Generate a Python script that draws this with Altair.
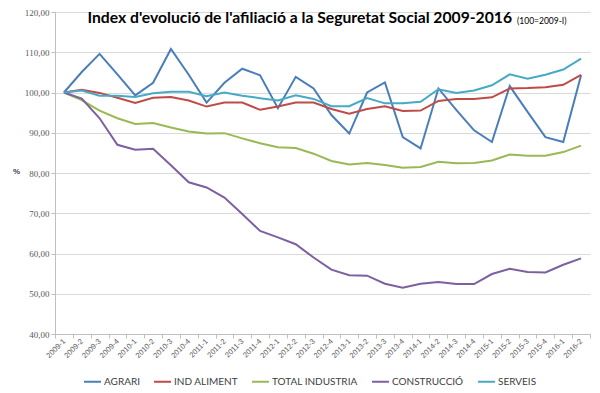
import altair as alt
import pandas as pd

periods = ["2009-1", "2009-2", "2009-3", "2009-4", "2010-1", "2010-2", "2010-3", "2010-4",
           "2011-1", "2011-2", "2011-3", "2011-4", "2012-1", "2012-2", "2012-3", "2012-4",
           "2013-1", "2013-2", "2013-3", "2013-4", "2014-1", "2014-2", "2014-3", "2014-4",
           "2015-1", "2015-2", "2015-3", "2015-4", "2016-1", "2016-2"]

agrari = [100, 105.1, 109.6, 104.5, 99.3, 102.4, 110.8, 104.4, 97.5, 102.4, 105.9, 104.3,
          96.1, 103.9, 101.0, 94.4, 89.8, 100.0, 102.5, 88.9, 86.1, 101.0, 95.7, 90.6,
          87.7, 101.6, 95.2, 88.9, 87.7, 104.3]
ind_aliment = [100, 100.7, 99.9, 98.7, 97.4, 98.7, 98.9, 98.0, 96.5, 97.5, 97.5, 95.7,
               96.5, 97.5, 97.5, 95.9, 94.7, 95.9, 96.6, 95.4, 95.5, 97.9, 98.4, 98.4,
               98.8, 101.0, 101.1, 101.3, 101.9, 104.4]
total_industria = [100, 98.1, 95.5, 93.6, 92.2, 92.4, 91.3, 90.3, 89.8, 89.9, 88.6, 87.4,
                   86.4, 86.2, 84.8, 83.0, 82.1, 82.5, 82.0, 81.3, 81.5, 82.8, 82.4, 82.5,
                   83.1, 84.6, 84.3, 84.3, 85.2, 86.8]
construccio = [100, 98.5, 93.6, 87.0, 85.8, 86.0, 81.9, 77.7, 76.4, 73.9, 69.8, 65.6,
               64.0, 62.3, 59.0, 56.0, 54.6, 54.5, 52.5, 51.5, 52.5, 52.9, 52.4, 52.4,
               54.9, 56.2, 55.4, 55.3, 57.2, 58.8]
serveis = [100, 100.5, 99.2, 99.2, 98.9, 99.8, 100.2, 100.2, 99.1, 100.0, 99.2, 98.6,
           98.0, 99.3, 98.4, 96.6, 96.6, 98.6, 97.3, 97.3, 97.7, 100.8, 99.9, 100.5,
           101.8, 104.5, 103.4, 104.4, 105.7, 108.4]

series_names = ["AGRARI", "IND ALIMENT", "TOTAL INDUSTRIA", "CONSTRUCCIÓ", "SERVEIS"]
series_values = [agrari, ind_aliment, total_industria, construccio, serveis]
series_colors = ["#4A7EBB", "#BE4B48", "#98B954", "#7D60A0", "#46AAC5"]

title_main = "Index d'evolució de l'afiliació a la Seguretat Social 2009-2016"
title_sub = "(100=2009-I)"

rows = []
for name, vals in zip(series_names, series_values):
    for p, v in zip(periods, vals):
        rows.append({"periode": p, "serie": name, "valor": v, "ordre": series_names.index(name)})
df = pd.DataFrame(rows)

W, H = 535, 322

lines = alt.Chart(df).mark_line(strokeWidth=2).encode(
    x=alt.X("periode:N", sort=periods, bandPosition=0.5,
            scale=alt.Scale(type="band", paddingInner=0, paddingOuter=0),
            axis=alt.Axis(title=None, labelAngle=-45, labelAlign="right", labelBaseline="middle",
                          labelFont="Liberation Sans", labelFontSize=7.5, labelColor="#595959",
                          labelPadding=2, tickBand="extent", tickSize=4, tickColor="#BFBFBF",
                          domainColor="#BFBFBF", grid=False)),
    y=alt.Y("valor:Q", scale=alt.Scale(domain=[40, 120], nice=False),
            axis=alt.Axis(values=list(range(40, 121, 10)), title="%", titleAngle=0,
                          titleX=-39, titleY=163, titleFont="Liberation Sans", titleFontSize=8,
                          titleFontWeight="bold", titleColor="#404040",
                          labelExpr="replace(format(datum.value, '.2f'), '.', ',')",
                          labelFont="Liberation Serif", labelFontSize=9, labelColor="#595959",
                          tickSize=4, tickColor="#BFBFBF", domainColor="#BFBFBF",
                          gridColor="#D9D9D9", gridWidth=1)),
    color=alt.Color("serie:N", sort=series_names,
                    scale=alt.Scale(domain=series_names, range=series_colors),
                    legend=alt.Legend(title=None, orient="none", legendX=28, legendY=360,
                                      direction="horizontal", symbolType="stroke",
                                      symbolStrokeWidth=2, symbolSize=289,
                                      labelFont="Lato", labelFontSize=10, labelColor="#404040",
                                      columnPadding=10, labelOffset=2)),
    order=alt.Order("ordre:Q"),
)

tdf = pd.DataFrame({"main": [title_main], "sub": [title_sub]})
t_main = alt.Chart(tdf).mark_text(align="right", baseline="alphabetic", font="Lato",
                                  fontSize=15.7, fontWeight="bold", color="#000000").encode(
    x=alt.value(457), y=alt.value(11), text="main:N")
t_sub = alt.Chart(tdf).mark_text(align="left", baseline="alphabetic", font="Lato",
                                 fontSize=8.5, color="#000000").encode(
    x=alt.value(462), y=alt.value(12), text="sub:N")

chart = alt.layer(lines, t_main, t_sub).properties(
    width=W, height=H,
    autosize=alt.AutoSizeParams(type="none"),
    padding={"left": 47, "top": 4, "right": 2, "bottom": 54},
).configure_view(stroke=None)

chart.save("out.html", embed_options={"renderer": "svg", "actions": False})
